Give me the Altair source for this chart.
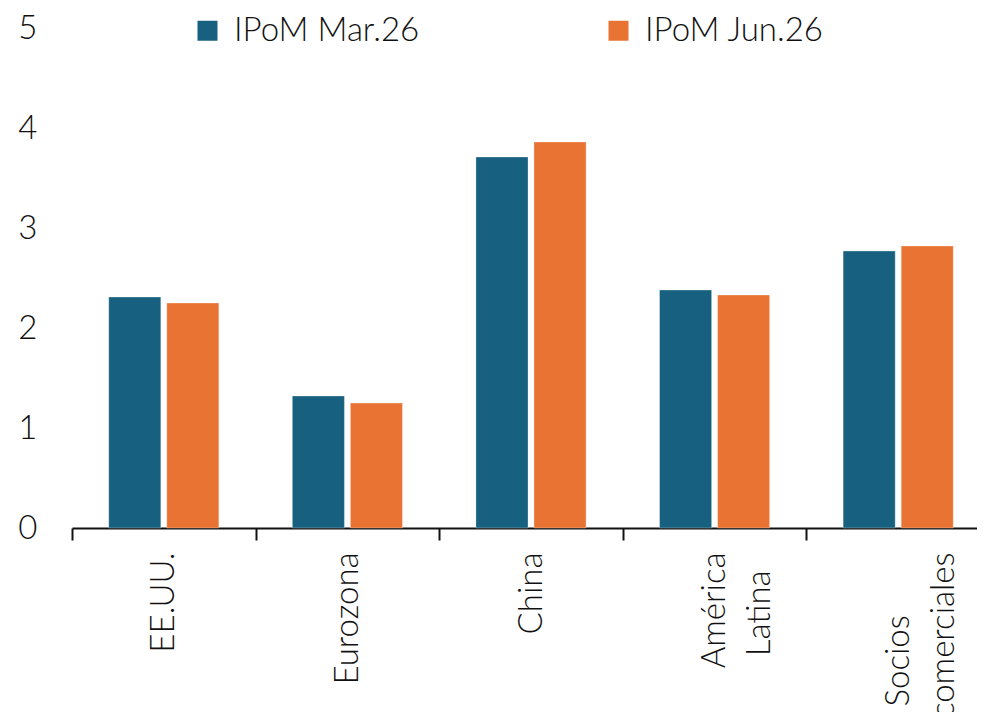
import altair as alt
import pandas as pd
import json

NB = "\u00a0"
ZW = "\u200b"
categories = ["EE.UU.", "Eurozona", "China", "América Latina", "Socios comerciales"]
# tick-label lines (short line padded with no-break spaces so the lines sit centred)
label_lines = {
    "EE.UU.": ["EE.UU."],
    "Eurozona": ["Eurozona"],
    "China": ["China"],
    "América Latina": ["América", "Latina" + NB * 2 + ZW],
    "Socios comerciales": ["Socios" + NB * 7 + ZW, "comerciales"],
}
series_names = ["IPoM Mar.26", "IPoM Jun.26"]
mar_values = [2.31, 1.32, 3.71, 2.38, 2.77]
jun_values = [2.25, 1.25, 3.86, 2.33, 2.82]
colors = ["#17607F", "#E97333"]
y_ticks = [0, 1, 2, 3, 4, 5]

rows = []
for c, m, j in zip(categories, mar_values, jun_values):
    rows.append({"cat": c, "serie": series_names[0], "v": m})
    rows.append({"cat": c, "serie": series_names[1], "v": j})
df = pd.DataFrame(rows)

FONT = "Lato"
FS = 33
FW = 300
TXT = "#111111"

label_map = json.dumps(label_lines, ensure_ascii=False)
label_expr = f"isValid(datum.value) ? {label_map}[datum.value] : ''"

bars = alt.Chart(df).mark_bar(stroke="white", strokeWidth=0.6, strokeOpacity=0.5).encode(
    x=alt.X(
        "cat:N",
        sort=categories,
        title=None,
        scale=alt.Scale(paddingInner=0, paddingOuter=0, range=[0, 918]),
        axis=alt.Axis(
            labelAngle=270,
            labelExpr=label_expr,
            labelFont=FONT,
            labelFontSize=FS,
            labelFontWeight=FW,
            labelColor=TXT,
            labelPadding=12,
            labelLineHeight=45,
            tickBand="extent",
            tickSize=12,
            tickWidth=2,
            tickColor=TXT,
            domainColor=TXT,
            domainWidth=2,
            grid=False,
            labelLimit=400,
        ),
    ),
    xOffset=alt.XOffset(
        "serie:N",
        sort=series_names,
        scale=alt.Scale(paddingInner=0.103, paddingOuter=0.633),
    ),
    y=alt.Y(
        "v:Q",
        title=None,
        scale=alt.Scale(domain=[0, 5], nice=False),
        axis=alt.Axis(
            values=y_ticks,
            domain=False,
            ticks=False,
            tickSize=0,
            grid=False,
            labelFont=FONT,
            labelFontSize=FS,
            labelFontWeight=FW,
            labelColor=TXT,
            labelPadding=35,
        ),
    ),
    color=alt.Color(
        "serie:N",
        sort=series_names,
        scale=alt.Scale(domain=series_names, range=colors),
        legend=alt.Legend(
            title=None,
            orient="none",
            direction="horizontal",
            legendX=119,
            legendY=-14,
            symbolType="square",
            symbolSize=400,
            symbolStrokeWidth=0,
            symbolOpacity=1,
            labelFont=FONT,
            labelFontSize=FS,
            labelFontWeight=FW,
            labelColor=TXT,
            labelOffset=10,
            columnPadding=182,
            padding=0,
            labelLimit=400,
        ),
    ),
)

chart = bars.properties(
    width=905,
    height=500,
    autosize=alt.AutoSizeParams(type="none"),
    padding={"left": 64, "top": 20, "right": 0, "bottom": 184},
    background="white",
).configure(font=FONT).configure_view(strokeWidth=0, stroke="transparent")

chart.save("out.html", embed_options={"renderer": "svg", "actions": False})
